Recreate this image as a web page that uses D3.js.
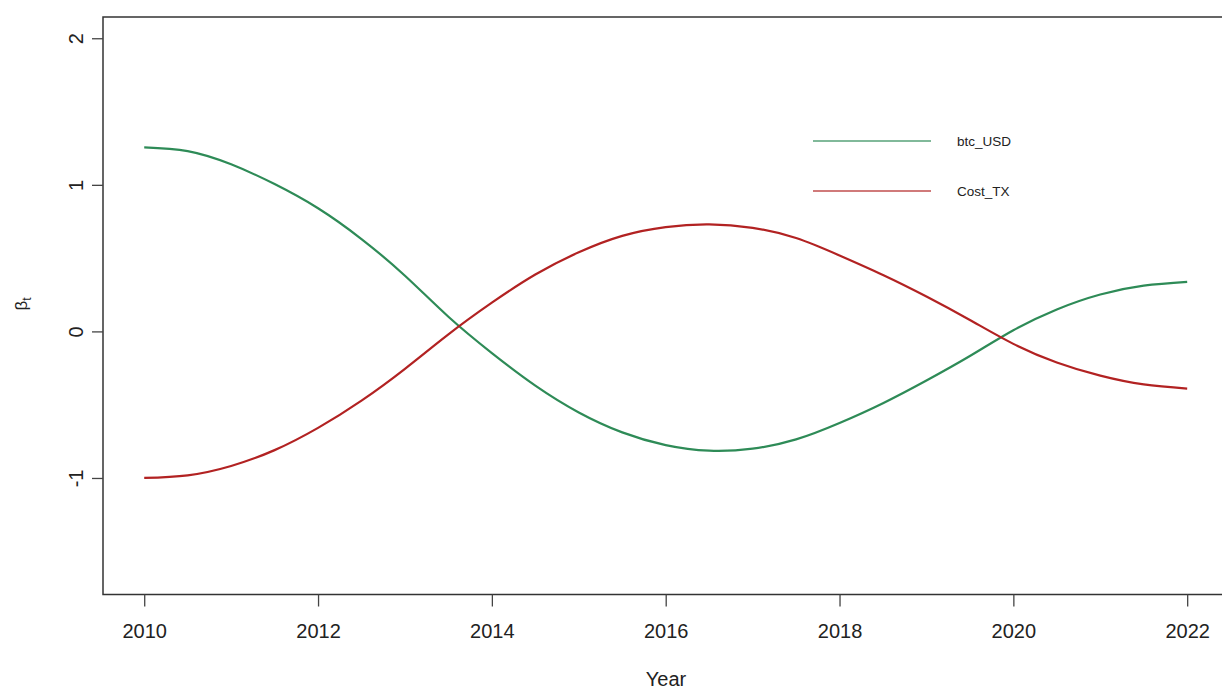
<!DOCTYPE html>
<html>
<head>
<meta charset="utf-8">
<script src="https://cdn.jsdelivr.net/npm/d3@7"></script>
<style>
  html, body { margin: 0; padding: 0; background: #fff; }
  svg { display: block; }
  text { font-family: "Liberation Sans", Arial, sans-serif; fill: #222; }
</style>
</head>
<body>
<svg id="chart" width="1222" height="689"></svg>
<script>
// ---- data ----
const years = [2010, 2010.5, 2011, 2011.5, 2012, 2012.5, 2013, 2013.5, 2014, 2014.5,
               2015, 2015.5, 2016, 2016.5, 2017, 2017.5, 2018, 2018.5, 2019, 2019.5,
               2020, 2020.5, 2021, 2021.5, 2022];
const btcUSD = [1.256, 1.230, 1.140, 1.005, 0.840, 0.630, 0.380, 0.100, -0.148, -0.370,
                -0.553, -0.689, -0.776, -0.814, -0.800, -0.737, -0.625, -0.490, -0.335, -0.168,
                0.008, 0.150, 0.252, 0.312, 0.338];
const costTX = [-1.000, -0.982, -0.918, -0.810, -0.658, -0.472, -0.255, -0.020, 0.196, 0.388,
                0.540, 0.652, 0.712, 0.730, 0.706, 0.637, 0.518, 0.385, 0.238, 0.078,
                -0.085, -0.212, -0.302, -0.362, -0.390];
const seriesNames = ["btc_USD", "Cost_TX"];
const seriesColors = ["#2E8B57", "#B22222"];
const xTicks = [2010, 2012, 2014, 2016, 2018, 2020, 2022];
const yTicks = [-1, 0, 1, 2];
const xLabel = "Year";

// ---- layout ----
const svg = d3.select("#chart");
const pL = 103, pR = 1229, pT = 17, pB = 594.5;
const x = d3.scaleLinear().domain([2009.52, 2022.48]).range([102.5, 1228.9]);
const y = d3.scaleLinear().domain([-1.795, 2.145]).range([pB, pT]);

svg.append("defs").append("clipPath").attr("id", "clip")
  .append("rect").attr("x", pL).attr("y", pT).attr("width", pR - pL).attr("height", pB - pT);

// lines
const seriesData = [btcUSD, costTX];
const line = d3.line()
  .x((d, i) => x(years[i]))
  .y(d => y(d))
  .curve(d3.curveNatural);

const g = svg.append("g").attr("clip-path", "url(#clip)");
seriesData.forEach((vals, k) => {
  g.append("path")
    .attr("d", line(vals))
    .attr("fill", "none")
    .attr("stroke", seriesColors[k])
    .attr("stroke-width", 2.2)
    .attr("stroke-linejoin", "round");
});

// box
svg.append("rect")
  .attr("x", pL).attr("y", pT)
  .attr("width", pR - pL).attr("height", pB - pT)
  .attr("fill", "none").attr("stroke", "#333").attr("stroke-width", 1.5);

// x axis
const xAxis = d3.axisBottom(x).tickValues(xTicks).tickSize(12).tickPadding(17).tickFormat(d => String(d));
const xg = svg.append("g").attr("transform", `translate(0,${pB})`).call(xAxis);
xg.select(".domain").remove();
xg.selectAll("line").attr("stroke", "#444").attr("stroke-width", 1.3);
xg.selectAll("text").attr("font-size", 20).attr("fill", "#222")
  .attr("font-family", "Liberation Sans, Arial, sans-serif");

// y axis
const yAxis = d3.axisLeft(y).tickValues(yTicks).tickSize(11).tickFormat(d => String(d));
const yg = svg.append("g").attr("transform", `translate(${pL},0)`).call(yAxis);
yg.select(".domain").remove();
yg.selectAll("line").attr("stroke", "#444").attr("stroke-width", 1.3);
yg.selectAll("text")
  .attr("font-size", 20).attr("fill", "#222")
  .attr("font-family", "Liberation Sans, Arial, sans-serif")
  .attr("x", null)
  .attr("text-anchor", "middle")
  .attr("transform", "translate(-27,0) rotate(-90)")
  .attr("dy", "0.36em");

// axis titles
svg.append("text").attr("x", 666).attr("y", 686)
  .attr("text-anchor", "middle").attr("font-size", 20).text(xLabel);

const yl = svg.append("text")
  .attr("transform", "translate(27,304) rotate(-90)")
  .attr("text-anchor", "middle").attr("font-size", 17);
yl.append("tspan").text("β");
yl.append("tspan").attr("font-size", 12).attr("dy", 4).text("t");

// legend
const legY = [141, 191];
seriesNames.forEach((name, k) => {
  svg.append("line")
    .attr("x1", 813).attr("x2", 931)
    .attr("y1", legY[k]).attr("y2", legY[k])
    .attr("stroke", seriesColors[k]).attr("stroke-width", 1.3).attr("stroke-opacity", 0.8);
  svg.append("text")
    .attr("x", 957).attr("y", legY[k] + 5)
    .attr("font-size", 13.5).text(name);
});
</script>
</body>
</html>
